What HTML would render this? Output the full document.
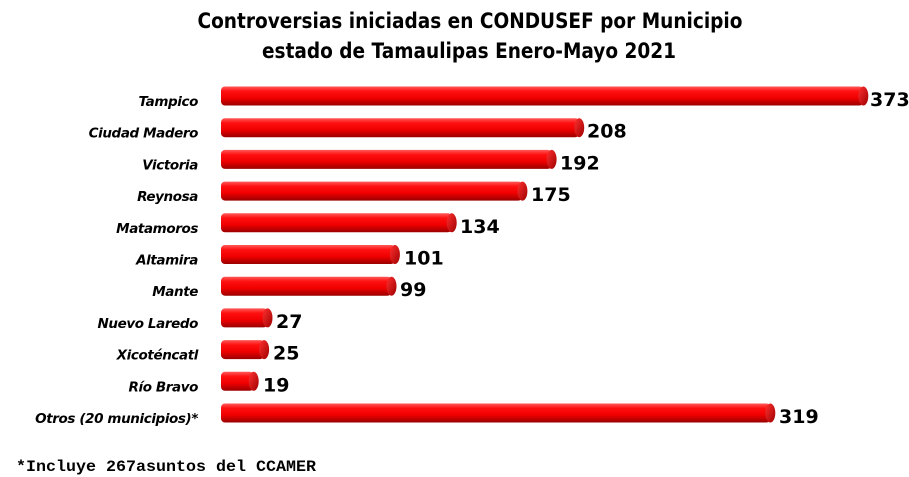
<!DOCTYPE html>
<html><head><meta charset="utf-8"><style>html,body{margin:0;padding:0;background:#fff;}svg{display:block}</style></head>
<body>
<svg width="909" height="477" viewBox="0 0 909 477" xmlns="http://www.w3.org/2000/svg">
<defs>
<linearGradient id="g" x1="0" y1="0" x2="0" y2="1">
<stop offset="0" stop-color="#ff5a5a"/>
<stop offset="0.25" stop-color="#ff1010"/>
<stop offset="0.6" stop-color="#f00000"/>
<stop offset="1" stop-color="#9a0000"/>
</linearGradient>
<linearGradient id="c" x1="0" y1="0" x2="1" y2="1">
<stop offset="0" stop-color="#ff3030"/>
<stop offset="1" stop-color="#a00000"/>
</linearGradient>
</defs>
<g font-family="'DejaVu Sans','Liberation Sans',sans-serif" font-weight="bold" fill="#000" text-anchor="middle">
<text x="470" y="28" font-size="21" textLength="545" lengthAdjust="spacingAndGlyphs">Controversias iniciadas en CONDUSEF por Municipio</text>
<text x="469" y="58" font-size="21" textLength="414" lengthAdjust="spacingAndGlyphs">estado de Tamaulipas Enero-Mayo 2021</text>
</g>
<g fill="url(#g)">
<rect x="221" y="86.5" width="642.3" height="19" rx="4"/>
<rect x="221" y="118.2" width="358.2" height="19" rx="4"/>
<rect x="221" y="149.9" width="330.6" height="19" rx="4"/>
<rect x="221" y="181.6" width="301.4" height="19" rx="4"/>
<rect x="221" y="213.3" width="230.7" height="19" rx="4"/>
<rect x="221" y="245" width="173.9" height="19" rx="4"/>
<rect x="221" y="276.7" width="170.5" height="19" rx="4"/>
<rect x="221" y="308.4" width="46.5" height="19" rx="4"/>
<rect x="221" y="340.1" width="43.1" height="19" rx="4"/>
<rect x="221" y="371.8" width="32.7" height="19" rx="4"/>
<rect x="221" y="403.5" width="549.3" height="19" rx="4"/>
</g>
<g fill="url(#c)">
<ellipse cx="863.3" cy="96" rx="5" ry="9.5"/>
<ellipse cx="579.2" cy="127.7" rx="5" ry="9.5"/>
<ellipse cx="551.6" cy="159.4" rx="5" ry="9.5"/>
<ellipse cx="522.4" cy="191.1" rx="5" ry="9.5"/>
<ellipse cx="451.7" cy="222.8" rx="5" ry="9.5"/>
<ellipse cx="394.9" cy="254.5" rx="5" ry="9.5"/>
<ellipse cx="391.5" cy="286.2" rx="5" ry="9.5"/>
<ellipse cx="267.5" cy="317.9" rx="5" ry="9.5"/>
<ellipse cx="264.1" cy="349.6" rx="5" ry="9.5"/>
<ellipse cx="253.7" cy="381.3" rx="5" ry="9.5"/>
<ellipse cx="770.3" cy="413" rx="5" ry="9.5"/>
</g>
<g font-family="'DejaVu Sans','Liberation Sans',sans-serif" font-weight="bold" font-style="italic" font-size="13.5" letter-spacing="-0.4" text-anchor="end">
<text x="198" y="106">Tampico</text>
<text x="198" y="137.7">Ciudad Madero</text>
<text x="198" y="169.4">Victoria</text>
<text x="198" y="201.1">Reynosa</text>
<text x="198" y="232.8">Matamoros</text>
<text x="198" y="264.5">Altamira</text>
<text x="198" y="296.2">Mante</text>
<text x="198" y="327.9">Nuevo Laredo</text>
<text x="198" y="359.6">Xicoténcatl</text>
<text x="198" y="391.3">Río Bravo</text>
<text x="198" y="423">Otros (20 municipios)*</text>
</g>
<g font-family="'DejaVu Sans','Liberation Sans',sans-serif" font-weight="bold" font-size="19">
<text x="870" y="106">373</text>
<text x="587" y="137.7">208</text>
<text x="560" y="169.4">192</text>
<text x="531" y="201.1">175</text>
<text x="460" y="232.8">134</text>
<text x="404" y="264.5">101</text>
<text x="400" y="296.2">99</text>
<text x="276" y="327.9">27</text>
<text x="273" y="359.6">25</text>
<text x="263" y="391.3">19</text>
<text x="779" y="423">319</text>
</g>
<text x="16" y="471" font-family="'Liberation Mono',monospace" font-weight="bold" font-size="16" textLength="300" lengthAdjust="spacingAndGlyphs">*Incluye 267asuntos del CCAMER</text>
</svg>
</body></html>
